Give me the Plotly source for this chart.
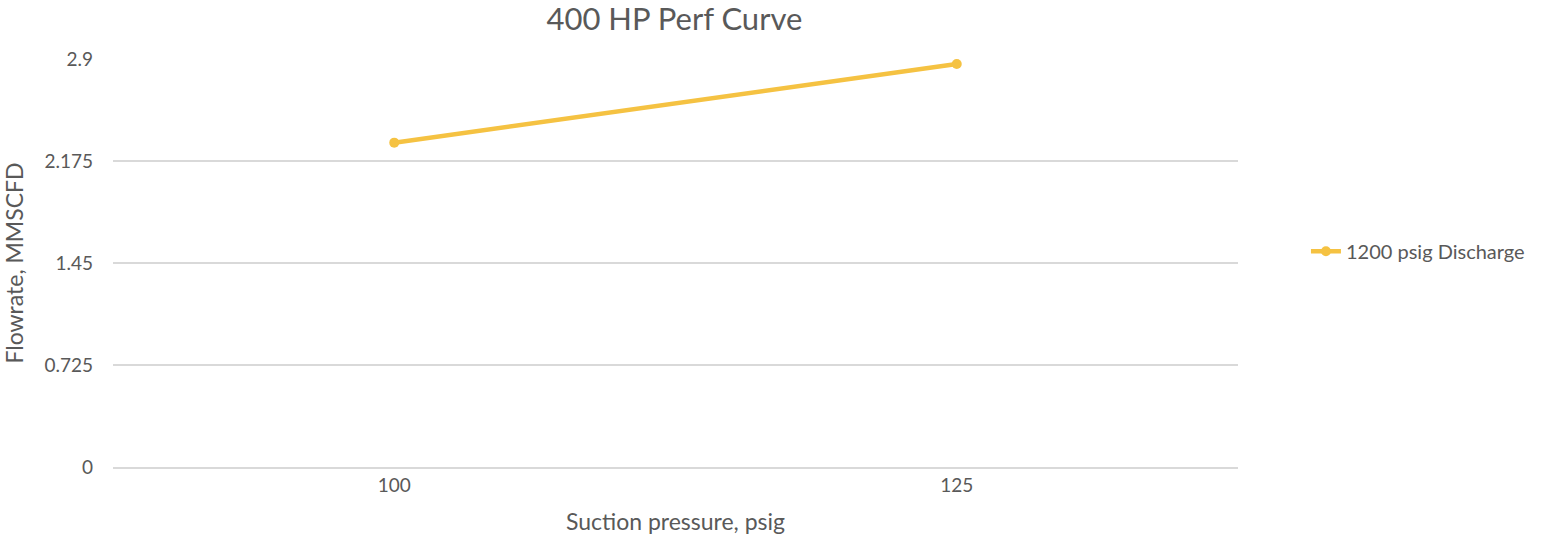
import plotly.graph_objects as go

categories = ["100", "125"]
flowrate = [2.307, 2.866]
series_name = "1200 psig Discharge"
y_ticks = [0, 0.725, 1.45, 2.175, 2.9]
y_tick_labels = ["0", "0.725", "1.45", "2.175", "2.9"]

FONT = "Lato, 'Open Sans', sans-serif"
TXT = "#595959"
GOLD = "#F5C242"

fig = go.Figure()
fig.add_trace(go.Scatter(
    x=categories, y=flowrate, mode="lines+markers", name=series_name,
    line=dict(color=GOLD, width=4.5),
    marker=dict(color=GOLD, size=10),
))

fig.update_layout(
    width=1554, height=536,
    margin=dict(l=113, r=316, t=59, b=69),
    paper_bgcolor="white", plot_bgcolor="white",
    font=dict(family=FONT, color=TXT, size=19),
    title=dict(text="400 HP Perf Curve", x=0.434, xanchor="center",
               y=0.9646, yanchor="middle",
               font=dict(size=31, color=TXT, family=FONT)),
    showlegend=True,
    legend=dict(x=1.0604, xanchor="left", y=0.529, yanchor="middle",
                itemwidth=30,
                font=dict(size=20, color=TXT), bgcolor="rgba(0,0,0,0)"),
    xaxis=dict(type="category", range=[-0.5, 1.5], showgrid=False,
               automargin=False,
               showline=True, linecolor="#D9D9D9", linewidth=1.5,
               tickfont=dict(size=19, color=TXT), ticks="",
               title=dict(text="Suction pressure, psig", standoff=19,
                          font=dict(size=23, color=TXT))),
    yaxis=dict(range=[0, 2.902], tickvals=y_ticks, ticktext=y_tick_labels,
               automargin=False,
               showgrid=True, gridcolor="#D9D9D9", gridwidth=1.5,
               zeroline=False, showline=False, ticks="",
               tickfont=dict(size=19, color=TXT), ticklabelstandoff=19,
               title=dict(text="Flowrate, MMSCFD", standoff=16,
                          font=dict(size=23, color=TXT))),
)

fig.write_html("out.html", config={"displayModeBar": False},
               post_script="document.body.style.margin='0';")
